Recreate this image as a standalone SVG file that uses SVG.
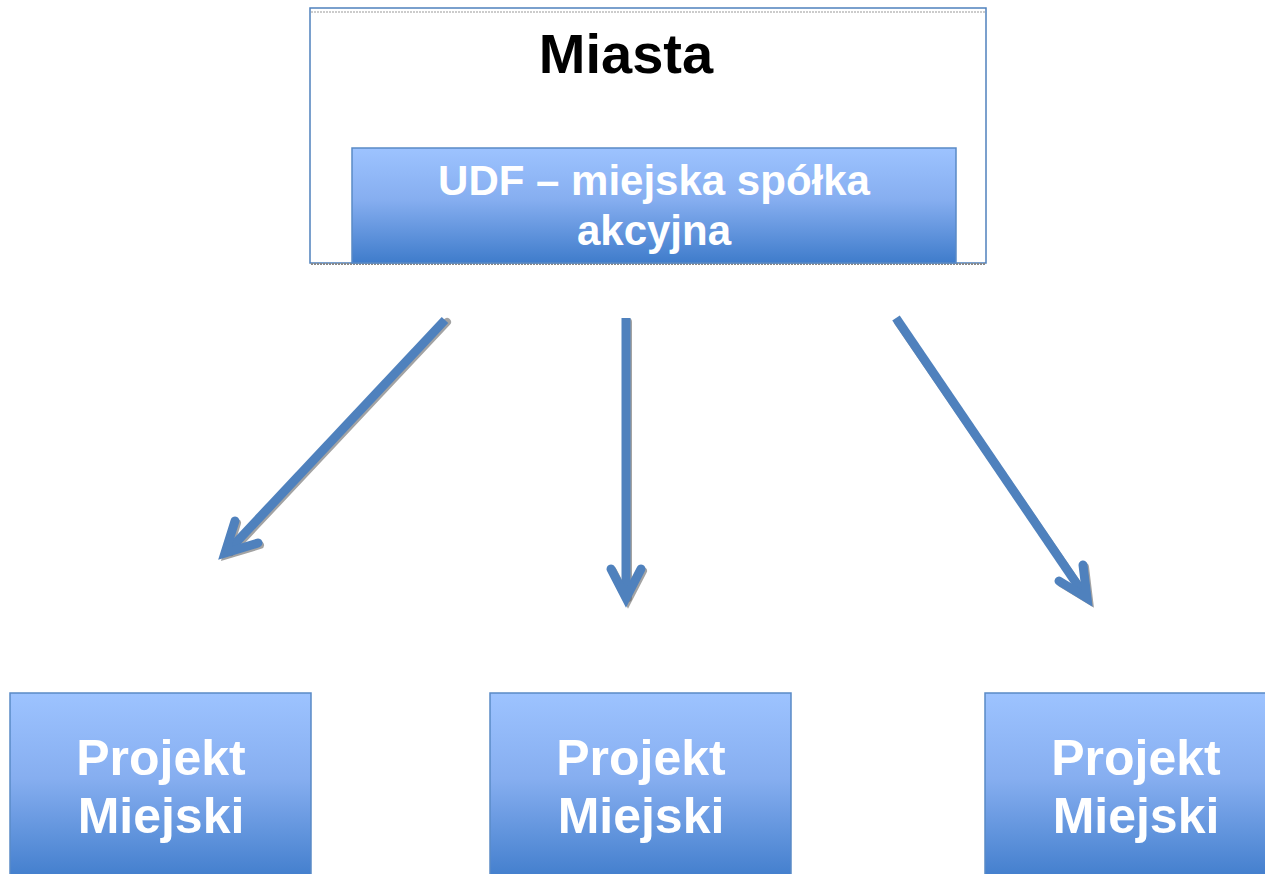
<svg xmlns="http://www.w3.org/2000/svg" width="1265" height="874" viewBox="0 0 1265 874">
<defs>
<linearGradient id="blue" x1="0" y1="0" x2="0" y2="1">
<stop offset="0" stop-color="#9dc3ff"/>
<stop offset="0.45" stop-color="#86aef0"/>
<stop offset="1" stop-color="#3f7ccb"/>
</linearGradient>
<style>
.box{fill:url(#blue);stroke:#5a8ac6;stroke-width:1.5}
.wt{font-family:"Liberation Sans",Arial,sans-serif;font-weight:bold;fill:#ffffff;text-anchor:middle}
.conn{fill:none;stroke:#4f81bd;stroke-width:9;stroke-linejoin:round}
.head{fill:none;stroke:#4f81bd;stroke-width:9;stroke-linecap:round;stroke-linejoin:miter}
.sh{fill:none;stroke:#666;stroke-width:8;stroke-linecap:round;opacity:0.6}
</style>
</defs>
<rect width="1265" height="874" fill="#ffffff"/>
<g id="miasta">
<rect x="310" y="8" width="676" height="255" fill="#ffffff" stroke="#4f81bd" stroke-width="1.5"/>
<line x1="311" y1="12" x2="985" y2="12" stroke="#999" stroke-width="1" stroke-dasharray="2,1"/>
<line x1="311" y1="264" x2="985" y2="264" stroke="#888" stroke-width="2" stroke-dasharray="2,1"/>
<text x="626" y="73" font-family="Liberation Sans, Arial, sans-serif" font-weight="bold" font-size="56" fill="#000" text-anchor="middle">Miasta</text>
</g>
<g id="udf">
<rect class="box" x="352" y="148" width="604" height="115"/>
<text class="wt" x="654" y="195" font-size="42">UDF – miejska spółka</text>
<text class="wt" x="654" y="245" font-size="42">akcyjna</text>
</g>
<g id="connectors">
<g transform="translate(2,2)">
<line class="sh" x1="445" y1="320" x2="229" y2="550"/>
<line class="sh" x1="626" y1="320" x2="626" y2="596"/>
<line class="sh" x1="896" y1="320" x2="1085" y2="596"/>
<polyline class="sh" points="235,521 225,553 258,543"/>
<polyline class="sh" points="611,569 626,598 641,569"/>
<polyline class="sh" points="1083,565 1087,598 1059,581"/>
</g>
<line class="conn" x1="445" y1="320" x2="229" y2="550"/>
<line class="conn" x1="626" y1="318" x2="626" y2="596"/>
<line class="conn" x1="896" y1="318" x2="1085" y2="596"/>
<polyline class="head" points="235,521 225,553 258,543"/>
<polyline class="head" points="611,569 626,598 641,569"/>
<polyline class="head" points="1083,565 1087,598 1059,581"/>
</g>
<g id="projekt1">
<rect class="box" x="10" y="693" width="301" height="190"/>
<text class="wt" x="161" y="775" font-size="50">Projekt</text>
<text class="wt" x="161" y="833" font-size="50">Miejski</text>
</g>
<g id="projekt2">
<rect class="box" x="490" y="693" width="301" height="190"/>
<text class="wt" x="641" y="775" font-size="50">Projekt</text>
<text class="wt" x="641" y="833" font-size="50">Miejski</text>
</g>
<g id="projekt3">
<rect class="box" x="985" y="693" width="301" height="190"/>
<text class="wt" x="1136" y="775" font-size="50">Projekt</text>
<text class="wt" x="1136" y="833" font-size="50">Miejski</text>
</g>
</svg>
